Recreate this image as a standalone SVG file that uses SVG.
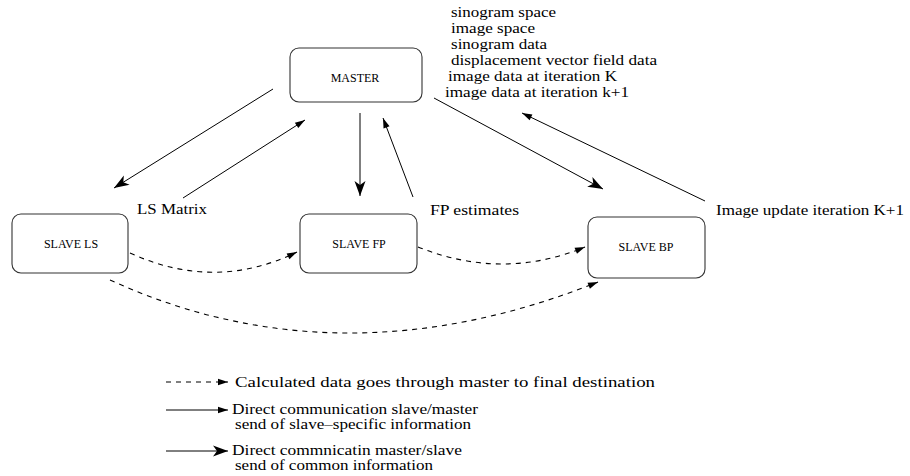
<svg xmlns="http://www.w3.org/2000/svg" width="910" height="476" viewBox="0 0 910 476">
<defs>
<style>
.box{fill:#fff;stroke:#333;stroke-width:1.1}
.nl{font-family:"Liberation Serif","Times New Roman",serif;font-size:12px;fill:#000}
.tx{font-family:"Liberation Serif","Times New Roman",serif;font-size:15px;fill:#000}
.ln{fill:none;stroke:#000;stroke-width:1}
.ds{fill:none;stroke:#000;stroke-width:1.1;stroke-dasharray:5,5}
</style>
<marker id="big" viewBox="-16 -7 17 14" refX="0" refY="0" markerWidth="17" markerHeight="14" markerUnits="userSpaceOnUse" orient="auto">
<path d="M0,0 L-15,-5.5 L-11,0 L-15,5.5 Z" fill="#000"/>
</marker>
<marker id="sm" viewBox="-11 -5 12 10" refX="0" refY="0" markerWidth="12" markerHeight="10" markerUnits="userSpaceOnUse" orient="auto">
<path d="M0,0 L-10,-3.2 L-10,3.2 Z" fill="#000"/>
</marker>
</defs>

<g id="master"><rect class="box" x="290" y="48" width="132" height="54" rx="9"/><text class="nl" x="355" y="82" text-anchor="middle">MASTER</text></g>
<g id="slave-ls"><rect class="box" x="12" y="214" width="116" height="59" rx="9"/><text class="nl" x="71" y="248" text-anchor="middle">SLAVE LS</text></g>
<g id="slave-fp"><rect class="box" x="300" y="214" width="117" height="59" rx="9"/><text class="nl" x="359" y="248" text-anchor="middle">SLAVE FP</text></g>
<g id="slave-bp"><rect class="box" x="588" y="217" width="117" height="61" rx="9"/><text class="nl" x="646" y="251" text-anchor="middle">SLAVE BP</text></g>

<g id="info-list" class="tx">
<text x="451" y="17" textLength="105" lengthAdjust="spacingAndGlyphs">sinogram space</text>
<text x="451" y="33" textLength="84" lengthAdjust="spacingAndGlyphs">image space</text>
<text x="451" y="49" textLength="96" lengthAdjust="spacingAndGlyphs">sinogram data</text>
<text x="451" y="64.5" textLength="206" lengthAdjust="spacingAndGlyphs">displacement vector field data</text>
<text x="448" y="80.5" textLength="169" lengthAdjust="spacingAndGlyphs">image data at iteration K</text>
<text x="445" y="96.5" textLength="184" lengthAdjust="spacingAndGlyphs">image data at iteration k+1</text>
</g>

<g id="connectors">
<line class="ln" x1="273" y1="89" x2="114" y2="188" marker-end="url(#big)"/>
<line class="ln" x1="183" y1="198" x2="305" y2="120" marker-end="url(#sm)"/>
<line class="ln" x1="360" y1="113" x2="360" y2="196" marker-end="url(#big)"/>
<line class="ln" x1="413" y1="197" x2="383" y2="118" marker-end="url(#sm)"/>
<line class="ln" x1="434" y1="98" x2="603" y2="189" marker-end="url(#big)"/>
<line class="ln" x1="705" y1="201" x2="522" y2="113" marker-end="url(#sm)"/>
<path class="ds" d="M130,253 Q215,292 297,252" marker-end="url(#sm)"/>
<path class="ds" d="M418,247 Q503,281 585,247" marker-end="url(#sm)"/>
<path class="ds" d="M110,280 Q340,385 598,282" marker-end="url(#sm)"/>
</g>

<g id="labels" class="tx">
<text x="137" y="214" textLength="70" lengthAdjust="spacingAndGlyphs">LS Matrix</text>
<text x="430" y="215" textLength="89" lengthAdjust="spacingAndGlyphs">FP estimates</text>
<text x="716" y="215" textLength="188" lengthAdjust="spacingAndGlyphs">Image update iteration K+1</text>
</g>

<g id="legend">
<line class="ds" x1="166" y1="382" x2="228" y2="382" marker-end="url(#sm)"/>
<text class="tx" x="235" y="387" textLength="420" lengthAdjust="spacingAndGlyphs">Calculated data goes through master to final destination</text>
<line class="ln" x1="166" y1="410" x2="228" y2="410" marker-end="url(#sm)"/>
<text class="tx" x="232" y="414" textLength="246" lengthAdjust="spacingAndGlyphs">Direct communication slave/master</text>
<text class="tx" x="235" y="429" textLength="236" lengthAdjust="spacingAndGlyphs">send of slave–specific information</text>
<line class="ln" x1="166" y1="451" x2="228" y2="451" marker-end="url(#big)"/>
<text class="tx" x="232" y="455" textLength="230" lengthAdjust="spacingAndGlyphs">Direct commnicatin master/slave</text>
<text class="tx" x="235" y="470" textLength="198" lengthAdjust="spacingAndGlyphs">send of common information</text>
</g>
</svg>
